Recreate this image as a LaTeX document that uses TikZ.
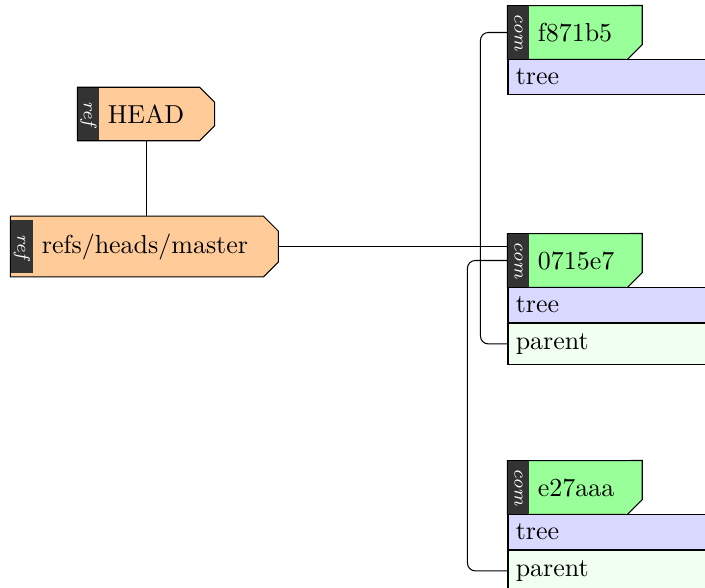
\documentclass[tikz,border=0pt]{standalone}
\usepackage{tikz}
\usetikzlibrary{positioning,calc,backgrounds}
\definecolor{refbg}{HTML}{FFCC99}
\definecolor{combg}{HTML}{99FF99}
\definecolor{treebg}{HTML}{D9D9FF}
\definecolor{parentbg}{HTML}{F0FFF0}
\definecolor{tabbg}{HTML}{333333}

\begin{document}
\begin{tikzpicture}[x=0.385pt,y=-0.385pt,
  tab/.style={fill=tabbg,inner sep=0pt,minimum width=8.1pt,minimum height=20.2pt,text=white,font=\scriptsize\itshape},
  refbody/.style={inner xsep=3pt,inner ysep=0pt,minimum height=20.2pt,anchor=west},
  combody/.style={inner xsep=3pt,inner ysep=0pt,text width=37pt,minimum height=20.4pt,anchor=west},
  field/.style={draw,inner xsep=3pt,inner ysep=0pt,text width=80pt,anchor=north west},
  link/.style={rounded corners=3pt}]
  \useasboundingbox (0,0) rectangle (705,587);

  % Refs
  \node[tab] (headtab) at (88.5,114) {\rotatebox{-90}{ref}};
  \node[refbody] (head) at (headtab.east) {HEAD};
  \node[tab,minimum width=8.5pt] (mastertab) at (22,246.5) {\rotatebox{-90}{ref}};
  \node[refbody,minimum height=23pt] (master) at (mastertab.east) {refs/heads/master};
  \coordinate (mastertip) at ($(master.east)+(22,0)$);

  % Commits
  \node[tab] (c1tab) at (518.5,32.5) {\rotatebox{-90}{com}};
  \node[combody] (c1) at (c1tab.east) {f871b5};
  \node[field,fill=treebg,minimum height=13.3pt] (c1tree) at (c1tab.south west) {tree};

  \node[tab] (c2tab) at (518.5,260.5) {\rotatebox{-90}{com}};
  \node[combody] (c2) at (c2tab.east) {0715e7};
  \node[field,fill=treebg,minimum height=13.3pt] (c2tree) at (c2tab.south west) {tree};
  \node[field,fill=parentbg,minimum height=15.8pt] (c2parent) at (c2tree.south west) {parent};

  \node[tab] (c3tab) at (518.5,487.5) {\rotatebox{-90}{com}};
  \node[combody] (c3) at (c3tab.east) {e27aaa};
  \node[field,fill=treebg,minimum height=13.3pt] (c3tree) at (c3tab.south west) {tree};
  \node[field,fill=parentbg,minimum height=15.8pt] (c3parent) at (c3tree.south west) {parent};

  % Outlines behind the labels
  \begin{scope}[on background layer]
    \foreach \r in {head,master} {
      \filldraw[fill=refbg] (\r tab.west |- \r.north) -- ($(\r.north east)+(7,0)$)
        -- ($(\r.north east)+(22,15)$) -- ($(\r.south east)+(22,-15)$)
        -- ($(\r.south east)+(7,0)$) -- (\r tab.west |- \r.south) -- cycle;
    }
    \foreach \c in {c1,c2,c3} {
      \filldraw[fill=combg] (\c tab.north west) -- (\c.north east)
        -- ($(\c.south east)+(0,-15)$) -- ($(\c.south east)+(-15,0)$)
        -- (\c tab.south west) -- cycle;
    }
  \end{scope}

  % Connectors
  \draw (head.south) -- (head.south |- master.north);
  \draw (mastertip) -- (mastertip -| c2tab.west);
  \draw[link] (c2parent.west) -- ++(-27,0) |- (c1tab.west);
  \draw[link] (c3parent.west) -- ++(-40,0) |- (c2tab.west);
\end{tikzpicture}
\end{document}
